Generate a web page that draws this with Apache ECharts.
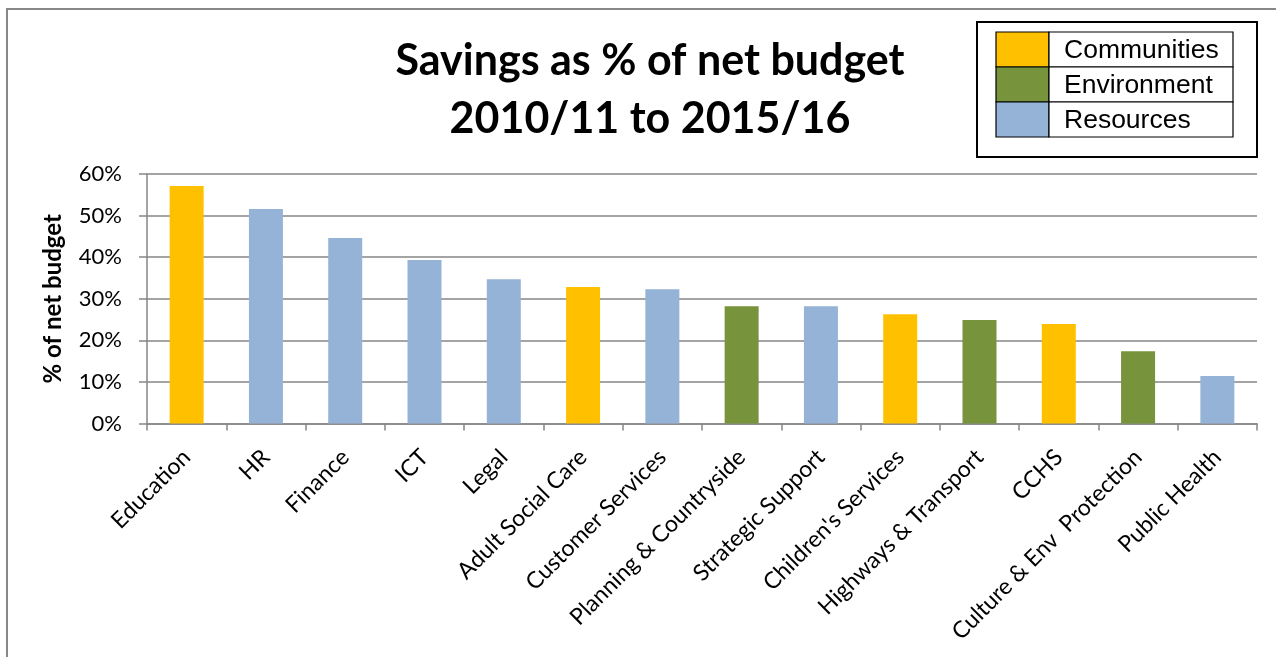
<!DOCTYPE html>
<html>
<head>
<meta charset="utf-8">
<script src="https://cdn.jsdelivr.net/npm/echarts@6/dist/echarts.min.js"></script>
<style>
html,body{margin:0;padding:0;background:#fff;}
#chart{width:1276px;height:657px;}
</style>
</head>
<body>
<div id="chart"></div>
<script>
const categories = ['Education','HR','Finance','ICT','Legal','Adult Social Care','Customer Services','Planning & Countryside','Strategic Support',"Children's Services",'Highways & Transport','CCHS','Culture & Env  Protection','Public Health'];
const values = [57.1, 51.6, 44.6, 39.3, 34.7, 32.8, 32.3, 28.2, 28.2, 26.3, 24.9, 23.9, 17.4, 11.4];
const groups = ['Communities','Resources','Resources','Resources','Resources','Communities','Resources','Environment','Resources','Communities','Environment','Communities','Environment','Resources'];
const groupNames = ['Communities','Environment','Resources'];
const groupColors = {Communities:'#FFC000', Environment:'#77933C', Resources:'#95B3D7'};
const yTicks = [0, 10, 20, 30, 40, 50, 60];

const chart = echarts.init(document.getElementById('chart'));
const font = 'Lato, "Open Sans", sans-serif';

const legendGraphics = [
  {type:'rect', shape:{x:977,y:22,width:280,height:135}, style:{fill:'#fff',stroke:'#000',lineWidth:2}, z:10}
];
groupNames.forEach((g,i)=>{
  const y = 32 + i*35;
  legendGraphics.push({type:'rect', shape:{x:996,y:y,width:53,height:35}, style:{fill:groupColors[g],stroke:'#000',lineWidth:1.2}, z:11});
  legendGraphics.push({type:'rect', shape:{x:1049,y:y,width:184,height:35}, style:{fill:'#fff',stroke:'#000',lineWidth:1.2}, z:11});
  legendGraphics.push({type:'text', x:1064, y:y+19, style:{text:g, fill:'#000', font:'26.5px "Liberation Sans", Arial, sans-serif', verticalAlign:'middle', align:'left'}, z:12});
});

chart.setOption({
  animation:false,
  backgroundColor:'#fff',
  title:{
    text:'Savings as % of net budget\n2010/11 to 2015/16',
    left:645, top:27, textAlign:'center',
    textStyle:{fontFamily:font, fontWeight:'bold', fontSize:43, lineHeight:58, color:'#000'}
  },
  grid:{left:147, right:19, top:174, bottom:233.5, containLabel:false},
  xAxis:{
    type:'category', data:categories,
    axisLine:{lineStyle:{color:'#868686', width:1.5}},
    axisTick:{show:true, length:7, lineStyle:{color:'#868686', width:1.5}},
    axisLabel:{rotate:45, interval:0, margin:30, fontFamily:font, fontSize:23, color:'#000'}
  },
  yAxis:{
    type:'value', min:0, max:60, interval:10,
    name:'% of net budget', nameLocation:'middle', nameGap:82, nameRotate:90,
    nameTextStyle:{fontFamily:font, fontWeight:'bold', fontSize:24, color:'#000'},
    axisLine:{show:true, lineStyle:{color:'#868686', width:1.5}},
    axisTick:{show:true, length:8, lineStyle:{color:'#868686', width:1.5}},
    splitLine:{lineStyle:{color:'#868686', width:1.5}},
    axisLabel:{margin:25, fontFamily:font, fontSize:22, color:'#000', formatter:v=> yTicks.includes(v) ? v+'%' : ''}
  },
  series:[{
    type:'bar', barWidth:34,
    data:values.map((v,i)=>({value:v, itemStyle:{color:groupColors[groups[i]]}}))
  }],
  graphic:[
    {type:'rect', shape:{x:7,y:9,width:1400,height:800}, style:{fill:'none',stroke:'#888',lineWidth:2}, z:-1, silent:true}
  ].concat(legendGraphics)
});
</script>
</body>
</html>
